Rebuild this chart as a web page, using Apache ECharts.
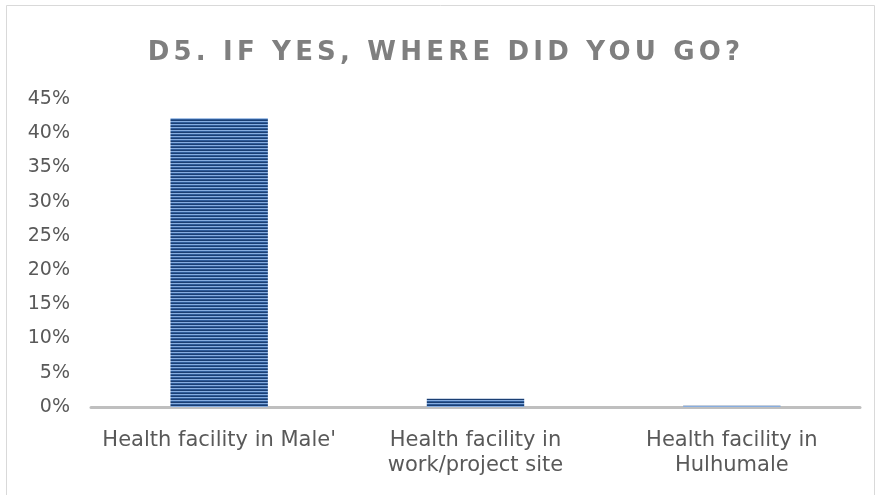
<!DOCTYPE html>
<html>
<head>
<meta charset="utf-8">
<script src="https://cdn.jsdelivr.net/npm/echarts@6/dist/echarts.min.js"></script>
<style>
html,body{margin:0;padding:0;background:#fff;}
#chart{width:876px;height:495px;}
</style>
</head>
<body>
<div id="chart"></div>
<script>
const titleText = "D5. IF YES, WHERE DID YOU GO?";
const categories = ["Health facility in Male'", "Health facility in\nwork/project site", "Health facility in\nHulhumale"];
const values = [42.2, 1.2, 0.2];
const yTicks = { min: 0, max: 45, interval: 5 };

// letter-spaced title (only affects the title string)
(function () {
  const proto = CanvasRenderingContext2D.prototype;
  const orig = proto.fillText;
  proto.fillText = function (t, x, y, w) {
    if (t === titleText && 'letterSpacing' in this) {
      const prev = this.letterSpacing;
      this.letterSpacing = '4.2px';
      const r = orig.call(this, t, x + 8, y, w);
      this.letterSpacing = prev;
      return r;
    }
    return orig.call(this, t, x, y, w);
  };
})();

function makePattern() {
  const c = document.createElement('canvas');
  c.width = 4; c.height = 3;
  const ctx = c.getContext('2d');
  ctx.fillStyle = '#1b3f73'; ctx.fillRect(0, 0, 4, 1);
  ctx.fillStyle = '#86ade0'; ctx.fillRect(0, 1, 4, 1);
  ctx.fillStyle = '#2f5c99'; ctx.fillRect(0, 2, 4, 1);
  return c;
}

const chart = echarts.init(document.getElementById('chart'));
chart.setOption({
  animation: false,
  backgroundColor: '#fff',
  title: {
    text: titleText,
    left: 'center',
    top: 35,
    textStyle: { fontFamily: 'DejaVu Sans', fontWeight: 'bold', fontSize: 26, color: '#7f7f7f' }
  },
  graphic: [{
    type: 'rect',
    shape: { x: 6.5, y: 5.5, width: 868, height: 500 },
    style: { fill: 'none', stroke: '#d9d9d9', lineWidth: 1 },
    silent: true
  }],
  grid: { left: 91, right: 16, top: 99, bottom: 88, containLabel: false },
  xAxis: {
    type: 'category',
    data: categories,
    axisLine: { lineStyle: { color: '#bfbfbf', width: 3 } },
    axisTick: { show: false },
    axisLabel: { color: '#595959', fontFamily: 'DejaVu Sans', fontSize: 21, margin: 21, lineHeight: 25, interval: 0 }
  },
  yAxis: {
    type: 'value',
    min: yTicks.min, max: yTicks.max, interval: yTicks.interval,
    splitLine: { show: false },
    axisLine: { show: false },
    axisTick: { show: false },
    axisLabel: { color: '#595959', fontFamily: 'DejaVu Sans', fontSize: 19, margin: 21, formatter: v => v + '%' }
  },
  series: [{
    type: 'bar',
    data: values,
    barWidth: '38%',
    itemStyle: { color: { image: makePattern(), repeat: 'repeat' } }
  }]
});
</script>
</body>
</html>
